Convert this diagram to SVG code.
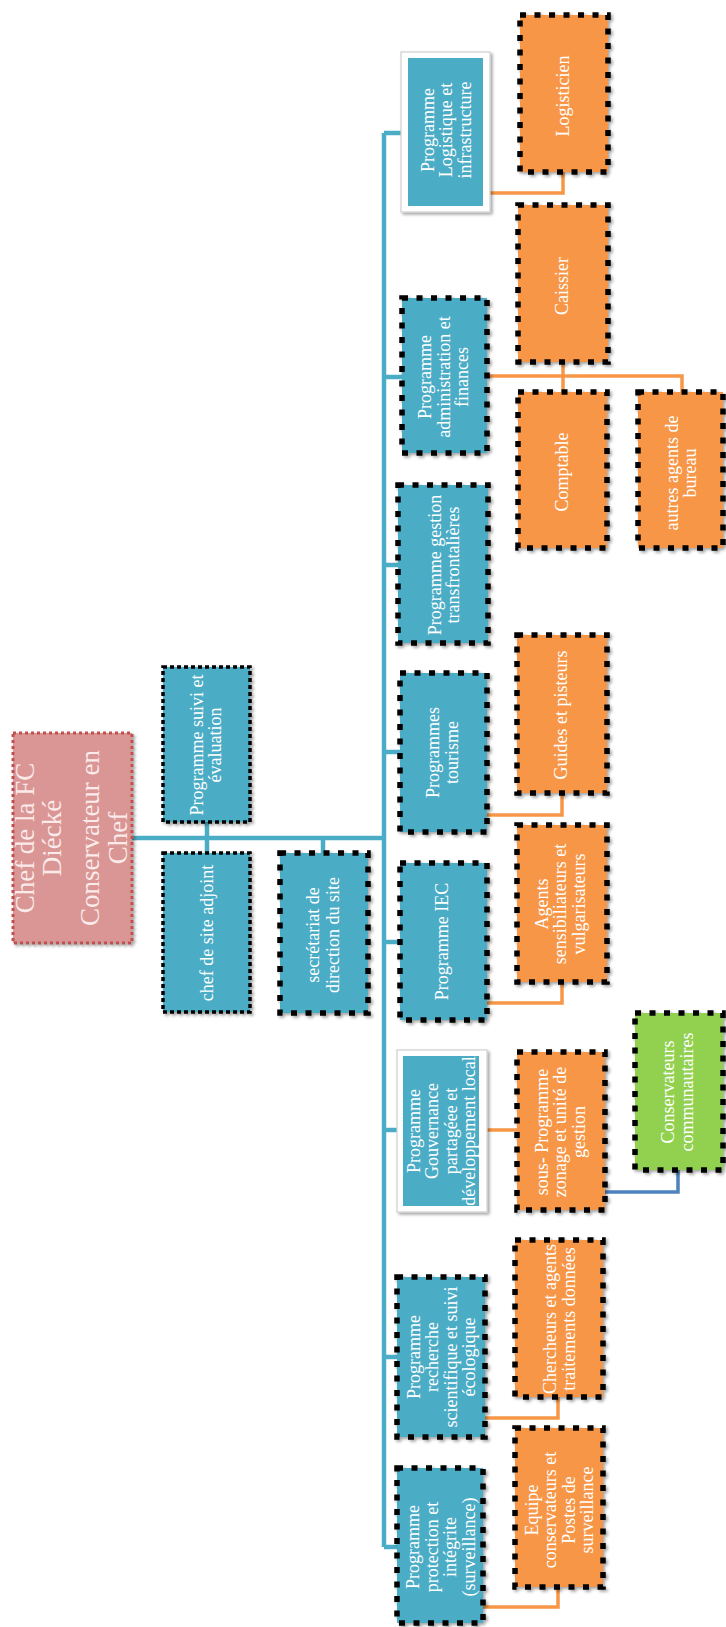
<svg xmlns="http://www.w3.org/2000/svg" width="726" height="1627" viewBox="0 0 726 1627">
<defs>
<filter id="sh" x="-10%" y="-10%" width="125%" height="125%">
<feDropShadow dx="2" dy="2" stdDeviation="1.6" flood-color="#000" flood-opacity="0.35"/>
</filter>
<style>
.t{font-family:"Liberation Serif","DejaVu Serif",serif;font-size:18px;fill:#ffffff;text-anchor:middle;dominant-baseline:central}
.big{font-size:27px;fill:#fbeaea}
.blue{fill:#4BACC6}
.orange{fill:#F79646}
.green{fill:#92D050}
.dot{stroke:#000;stroke-width:5.5;stroke-dasharray:6 8.5;filter:url(#sh)}
.fine{stroke:#000;stroke-width:3.5;stroke-dasharray:4 3;filter:url(#sh)}
.chef{fill:#D99694;stroke:#C0504D;stroke-width:3;stroke-dasharray:3 3;filter:url(#sh)}
.frame{fill:#ffffff;stroke:#cfcfcf;stroke-width:1.2;filter:url(#sh)}
.cb{fill:none;stroke:#4BACC6;stroke-width:4.5}
.co{fill:none;stroke:#F79646;stroke-width:3.5}
.cd{fill:none;stroke:#4F81BD;stroke-width:3.5}
</style>
</defs>
<rect width="726" height="1627" fill="#ffffff"/>
<g id="connectors">
<path class="cb" d="M132,838 H384 M207,822 V853 M323,838 V853 M384,133 V1547"/>
<path class="cb" d="M384,133 H401 M384,377 H402 M384,565 H398 M384,752 H400 M384,942 H400 M384,1130 H397 M384,1357 H397 M384,1547 H397"/>
<path class="co" d="M490,193 H563 V172 M487,376 H682 V392 M563,362 V392 M487,815 H562 V793 M487,1003 H562 V982 M487,1130 H517 M485,1418 H558 V1397 M483,1607 H558 V1587"/>
<path class="cd" d="M605,1192 H678 V1170"/>
</g>
<g id="chef">
<rect class="chef" x="13" y="733" width="119" height="210"/>
<text class="t big" transform="translate(72.5 838) rotate(-90)"><tspan x="0" y="-47.5">Chef de la FC</tspan><tspan x="0" y="-20.5">Diécké</tspan><tspan x="0" y="17.5">Conservateur en</tspan><tspan x="0" y="45.5">Chef</tspan></text>
</g>
<g id="suivi">
<rect class="blue fine" x="163" y="667" width="87" height="155"/>
<text class="t" transform="translate(206 745) rotate(-90)"><tspan x="0" y="-9.25">Programme suivi et</tspan><tspan x="0" y="9.25">évaluation</tspan></text>
</g>
<g id="adjoint">
<rect class="blue fine" x="163" y="853" width="87" height="159"/>
<text class="t" transform="translate(207 933) rotate(-90)">chef de site adjoint</text>
</g>
<g id="secretariat">
<rect class="blue dot" x="280" y="853" width="88" height="160"/>
<text class="t" transform="translate(323 935) rotate(-90)"><tspan x="0" y="-10">secrétariat de</tspan><tspan x="0" y="10">direction du site</tspan></text>
</g>
<g id="logistique">
<rect class="frame" x="401" y="52" width="89" height="160"/>
<rect class="blue" x="408" y="58" width="75" height="148"/>
<text class="t" transform="translate(446 130) rotate(-90)"><tspan x="0" y="-18.5">Programme</tspan><tspan x="0" y="0">Logistique et</tspan><tspan x="0" y="18.5">infrastructure</tspan></text>
</g>
<g id="admin">
<rect class="blue dot" x="402" y="298" width="85" height="155"/>
<text class="t" transform="translate(443.5 377) rotate(-90)"><tspan x="0" y="-18.5">Programme</tspan><tspan x="0" y="0">administration et</tspan><tspan x="0" y="18.5">finances</tspan></text>
</g>
<g id="transfrontalieres">
<rect class="blue dot" x="398" y="485" width="90" height="158"/>
<text class="t" transform="translate(444 565) rotate(-90)"><tspan x="0" y="-9.25">Programme gestion</tspan><tspan x="0" y="9.25">transfrontalières</tspan></text>
</g>
<g id="tourisme">
<rect class="blue dot" x="400" y="673" width="87" height="159"/>
<text class="t" transform="translate(442.5 752.5) rotate(-90)"><tspan x="0" y="-9.5">Programmes</tspan><tspan x="0" y="9.5">tourisme</tspan></text>
</g>
<g id="iec">
<rect class="blue dot" x="400" y="863" width="87" height="157"/>
<text class="t" transform="translate(442 941.5) rotate(-90)">Programme IEC</text>
</g>
<g id="gouvernance">
<rect class="frame" x="397" y="1050" width="90" height="162"/>
<rect class="blue" x="403" y="1056" width="76" height="150"/>
<text class="t" transform="translate(441.5 1131) rotate(-90)"><tspan x="0" y="-27.75">Programme</tspan><tspan x="0" y="-9.25">Gouvernance</tspan><tspan x="0" y="9.25">partagéee et</tspan><tspan x="0" y="27.75">développement local</tspan></text>
</g>
<g id="recherche">
<rect class="blue dot" x="397" y="1277" width="88" height="160"/>
<text class="t" transform="translate(441.5 1357) rotate(-90)"><tspan x="0" y="-27.75">Programme</tspan><tspan x="0" y="-9.25">recherche</tspan><tspan x="0" y="9.25">scientifique et suivi</tspan><tspan x="0" y="27.75">écologique</tspan></text>
</g>
<g id="protection">
<rect class="blue dot" x="397" y="1468" width="86" height="155"/>
<text class="t" transform="translate(441 1547) rotate(-90)"><tspan x="0" y="-27.75">Programme</tspan><tspan x="0" y="-9.25">protection et</tspan><tspan x="0" y="9.25">intégrite</tspan><tspan x="0" y="27.75">(surveillance)</tspan></text>
</g>
<g id="logisticien">
<rect class="orange dot" x="520" y="15" width="88" height="157"/>
<text class="t" transform="translate(563 96) rotate(-90)">Logisticien</text>
</g>
<g id="caissier">
<rect class="orange dot" x="518" y="205" width="90" height="157"/>
<text class="t" transform="translate(562 286) rotate(-90)">Caissier</text>
</g>
<g id="comptable">
<rect class="orange dot" x="518" y="392" width="89" height="156"/>
<text class="t" transform="translate(562 472) rotate(-90)">Comptable</text>
</g>
<g id="autres">
<rect class="orange dot" x="638" y="392" width="85" height="156"/>
<text class="t" transform="translate(681 473) rotate(-90)"><tspan x="0" y="-9">autres agents de</tspan><tspan x="0" y="9">bureau</tspan></text>
</g>
<g id="guides">
<rect class="orange dot" x="517" y="635" width="90" height="158"/>
<text class="t" transform="translate(561 715) rotate(-90)">Guides et pisteurs</text>
</g>
<g id="agents">
<rect class="orange dot" x="517" y="825" width="90" height="157"/>
<text class="t" transform="translate(560 904) rotate(-90)"><tspan x="0" y="-18.5">Agents</tspan><tspan x="0" y="0">sensibiliateurs et</tspan><tspan x="0" y="18.5">vulgarisateurs</tspan></text>
</g>
<g id="sous-programme">
<rect class="orange dot" x="517" y="1052" width="88" height="158"/>
<text class="t" transform="translate(560 1132) rotate(-90)"><tspan x="0" y="-18.5">sous- Programme</tspan><tspan x="0" y="0">zonage et unité de</tspan><tspan x="0" y="18.5">gestion</tspan></text>
</g>
<g id="conservateurs">
<rect class="green dot" x="635" y="1013" width="88" height="157"/>
<text class="t" transform="translate(677.5 1092) rotate(-90)"><tspan x="0" y="-9.5">Conservateurs</tspan><tspan x="0" y="9.5">communautaires</tspan></text>
</g>
<g id="chercheurs">
<rect class="orange dot" x="515" y="1240" width="88" height="157"/>
<text class="t" transform="translate(559 1319) rotate(-90)"><tspan x="0" y="-9.5">Chercheurs et agents</tspan><tspan x="0" y="9.5">traitements données</tspan></text>
</g>
<g id="equipe">
<rect class="orange dot" x="515" y="1428" width="88" height="159"/>
<text class="t" transform="translate(559.5 1510) rotate(-90)"><tspan x="0" y="-27.75">Equipe</tspan><tspan x="0" y="-9.25">conservateurs et</tspan><tspan x="0" y="9.25">Postes de</tspan><tspan x="0" y="27.75">surveillance</tspan></text>
</g>
</svg>
